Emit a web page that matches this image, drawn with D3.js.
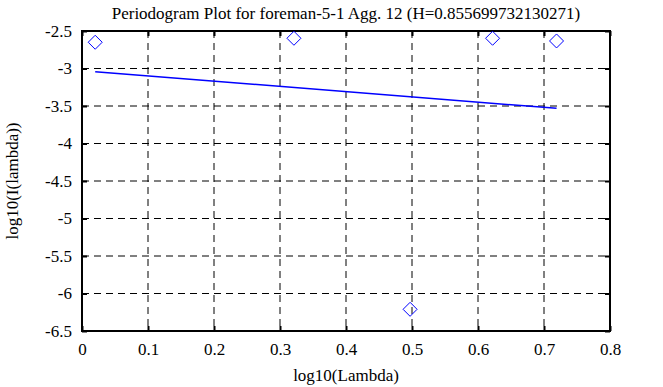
<!DOCTYPE html>
<html lang="en">
<head>
    <meta charset="UTF-8">
    <title>Periodogram Plot</title>
    <style>
        body { margin: 0; background: #fff; }
        svg text { font-family: "Liberation Serif", "DejaVu Serif", serif; fill: #000; }
    </style>
    <script src="https://cdn.jsdelivr.net/npm/d3@7"></script>
</head>
<body>
    <svg id="chart" width="663" height="387"></svg>
    <script>
        // log10(lambda) and log10(I(lambda))
        const logLambda = [0.0200, 0.3211, 0.4971, 0.6221, 0.7190];
        const logI = [-2.65, -2.597, -6.211, -2.597, -2.633];
        // fitted line end points
        const fitX = [0.0200, 0.7190];
        const fitY = [-3.043, -3.531];
        const xTicks = [0, 0.1, 0.2, 0.3, 0.4, 0.5, 0.6, 0.7, 0.8];
        const yTicks = [-2.5, -3, -3.5, -4, -4.5, -5, -5.5, -6, -6.5];
        const title = "Periodogram Plot for foreman-5-1 Agg. 12 (H=0.855699732130271)";

        const svg = d3.select("#chart");
        const margin = { left: 82, right: 53, top: 31, bottom: 56 };
        const width = 663 - margin.left - margin.right;
        const height = 387 - margin.top - margin.bottom;

        const x = d3.scaleLinear().domain([0, 0.8]).range([0, width]);
        const y = d3.scaleLinear().domain([-6.5, -2.5]).range([height, 0]);

        const g = svg.append("g").attr("transform", `translate(${margin.left},${margin.top})`);

        // dashed grid
        g.selectAll(".vgrid").data(xTicks.slice(1, -1)).enter().append("line")
            .attr("x1", d => x(d)).attr("x2", d => x(d))
            .attr("y1", 0).attr("y2", height)
            .attr("stroke", "#000").attr("stroke-width", 1)
            .attr("stroke-dasharray", "7,5");
        g.selectAll(".hgrid").data(yTicks.slice(1, -1)).enter().append("line")
            .attr("x1", 0).attr("x2", width)
            .attr("y1", d => y(d)).attr("y2", d => y(d))
            .attr("stroke", "#000").attr("stroke-width", 1)
            .attr("stroke-dasharray", "7,5");

        // axes with inward ticks, plain hyphen for minus
        const tl = 5;
        const fmt = d => String(d);
        g.append("g").attr("transform", `translate(0,${height})`)
            .call(d3.axisBottom(x).tickValues(xTicks).tickSize(-tl).tickPadding(12).tickFormat(fmt));
        g.append("g")
            .call(d3.axisLeft(y).tickValues(yTicks).tickSize(-tl).tickPadding(10).tickFormat(fmt));
        g.append("g")
            .call(d3.axisTop(x).tickValues(xTicks).tickSize(-tl).tickFormat(""));
        g.append("g").attr("transform", `translate(${width},0)`)
            .call(d3.axisRight(y).tickValues(yTicks).tickSize(-tl).tickFormat(""));

        g.selectAll(".domain").remove();
        g.selectAll(".tick line").attr("stroke", "#000").attr("stroke-width", 2);
        g.selectAll(".tick text").style("font-size", "17px")
            .style("font-family", '"Liberation Serif", serif');

        // frame
        g.append("rect")
            .attr("x", 0).attr("y", 0).attr("width", width).attr("height", height)
            .attr("fill", "none").attr("stroke", "#000").attr("stroke-width", 2);

        // fitted line
        g.append("line")
            .attr("x1", x(fitX[0])).attr("y1", y(fitY[0]))
            .attr("x2", x(fitX[1])).attr("y2", y(fitY[1]))
            .attr("stroke", "#0000ff").attr("stroke-width", 1.5);

        // diamonds
        const r = 7;
        g.selectAll(".pt").data(logLambda).enter().append("path")
            .attr("d", (d, i) => {
                const cx = x(d), cy = y(logI[i]);
                return `M${cx},${cy - r}L${cx + r},${cy}L${cx},${cy + r}L${cx - r},${cy}Z`;
            })
            .attr("fill", "none").attr("stroke", "#0000ff").attr("stroke-width", 1);

        // labels
        svg.append("text")
            .attr("x", margin.left + width / 2).attr("y", 19)
            .attr("text-anchor", "middle").style("font-size", "17px")
            .text(title);
        svg.append("text")
            .attr("x", margin.left + width / 2).attr("y", 381)
            .attr("text-anchor", "middle").style("font-size", "17px")
            .text("log10(Lambda)");
        svg.append("text")
            .attr("transform", `translate(18,${margin.top + height / 2}) rotate(-90)`)
            .attr("text-anchor", "middle").style("font-size", "17px")
            .text("log10(I(lambda))");
    </script>
</body>
</html>
